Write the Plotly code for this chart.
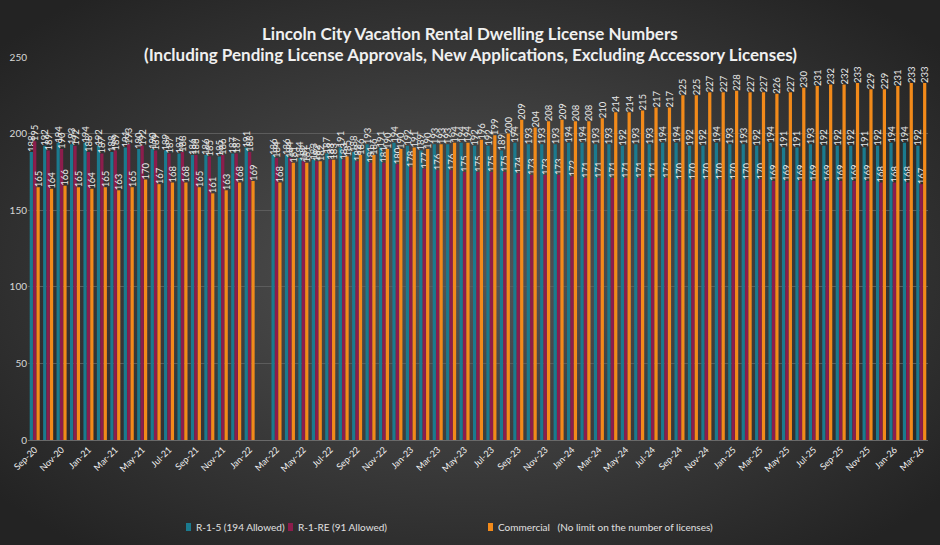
import base64
import plotly.graph_objects as go

months = ["Sep-20","Oct-20","Nov-20","Dec-20","Jan-21","Feb-21","Mar-21","Apr-21","May-21","Jun-21","Jul-21","Aug-21",
          "Sep-21","Oct-21","Nov-21","Dec-21","Jan-22","Feb-22","Mar-22","Apr-22","May-22","Jun-22","Jul-22","Aug-22",
          "Sep-22","Oct-22","Nov-22","Dec-22","Jan-23","Feb-23","Mar-23","Apr-23","May-23","Jun-23","Jul-23","Aug-23",
          "Sep-23","Oct-23","Nov-23","Dec-23","Jan-24","Feb-24","Mar-24","Apr-24","May-24","Jun-24","Jul-24","Aug-24",
          "Sep-24","Oct-24","Nov-24","Dec-24","Jan-25","Feb-25","Mar-25","Apr-25","May-25","Jun-25","Jul-25","Aug-25",
          "Sep-25","Oct-25","Nov-25","Dec-25","Jan-26","Feb-26","Mar-26"]

r15 = [188,192,194,193,194,192,188,191,190,190,189,187,
       186,186,185,187,191,None,186,186,184,183,187,191,
       188,193,191,194,192,189,193,193,194,192,192,189,
       194,193,193,193,194,194,193,193,192,193,193,194,
       194,192,192,194,193,193,192,194,191,191,193,192,
       192,192,191,192,194,194,192]

r1re = [195,189,190,192,188,187,189,193,192,189,187,188,
        186,185,186,187,188,None,184,184,182,182,183,183,
        182,181,181,180,178,177,176,176,175,175,175,175,
        174,173,173,173,172,171,171,171,171,171,171,171,
        170,170,170,170,170,170,170,169,169,169,169,169,
        169,169,169,168,168,168,167]

commercial = [165,164,166,165,164,165,163,165,170,167,168,168,
              165,161,163,168,169,None,168,181,181,182,183,185,
              186,186,190,190,191,190,193,194,194,196,199,200,
              209,204,208,209,208,208,210,214,214,215,217,217,
              225,225,227,227,228,227,227,226,227,230,231,232,
              232,233,229,229,231,233,233]

series_names = ["R-1-5 (194 Allowed)", "R-1-RE (91 Allowed)", "Commercial  (No limit on the number of licenses)"]
series_colors = ["#1b7a8e", "#8c1d4c", "#f28a1a"]
legend_px = [186, 288, 488]

W, H = 940, 545
ML, MR, MT, MB = 28, 12, 57, 105
PW, PH = W - ML - MR, H - MT - MB


def px_x(px):
    return (px - ML) / PW


def px_y(py):
    return (H - MB - py) / PH


svg = f'''<svg xmlns="http://www.w3.org/2000/svg" width="{W}" height="{H}">
<defs><radialGradient id="g" cx="50%" cy="50%" r="65%">
<stop offset="0%" stop-color="#555555"/><stop offset="100%" stop-color="#232323"/>
</radialGradient></defs>
<rect width="{W}" height="{H}" fill="url(#g)"/></svg>'''
bg_src = "data:image/svg+xml;base64," + base64.b64encode(svg.encode()).decode()

fig = go.Figure()
for name, vals, col in zip(series_names, [r15, r1re, commercial], series_colors):
    fig.add_trace(go.Bar(
        x=months, y=vals, name=name,
        marker=dict(color=col, line=dict(width=0)),
        text=["" if v is None else str(v) for v in vals],
        textposition="outside", textangle=-90,
        textfont=dict(size=9.5, color="#e8e8e8", family="Lato"),
        constraintext="none", cliponaxis=False,
    ))

# legend drawn as small swatches + labels below the plot
shapes = []
annotations = []
for name, col, px in zip(series_names, series_colors, legend_px):
    shapes.append(dict(type="rect", xref="paper", yref="paper",
                       x0=px_x(px), x1=px_x(px + 5), y0=px_y(531), y1=px_y(523),
                       fillcolor=col, line=dict(width=0)))
    annotations.append(dict(text=name.replace("  ", "&nbsp;&nbsp;&nbsp;"), x=px_x(px + 8), y=px_y(527),
                            xref="paper", yref="paper", xanchor="left", yanchor="middle", showarrow=False,
                            font=dict(size=10, color="#e0e0e0", family="Lato")))

annotations += [
    dict(text="<b>Lincoln City Vacation Rental Dwelling License Numbers</b>", x=px_x(470),
         y=px_y(21), xref="paper", yref="paper", showarrow=False,
         font=dict(size=17, color="#f0f0f0", family="Lato")),
    dict(text="<b>(Including Pending License Approvals, New Applications, Excluding Accessory Licenses)</b>",
         x=px_x(470), y=px_y(42), xref="paper", yref="paper", showarrow=False,
         font=dict(size=17, color="#f0f0f0", family="Lato")),
]

fig.update_layout(
    width=W, height=H,
    margin=dict(l=ML, r=MR, t=MT, b=MB, autoexpand=False),
    paper_bgcolor="#333333", plot_bgcolor="rgba(0,0,0,0)",
    barmode="group", bargap=0.24, bargroupgap=0.05,
    font=dict(family="Lato", color="#e0e0e0"),
    showlegend=False,
    images=[dict(source=bg_src, xref="paper", yref="paper", x=-ML / PW, y=1 + MT / PH,
                 sizex=W / PW, sizey=H / PH, sizing="stretch", layer="below", xanchor="left", yanchor="top")],
    shapes=shapes,
    annotations=annotations,
)

fig.update_xaxes(
    type="category", tickangle=-45, tickmode="array",
    tickvals=months[::2], ticktext=months[::2], automargin=False,
    tickfont=dict(size=9, color="#f0f0f0", family="Lato"),
    showgrid=False, showline=True, linecolor="#6a6a6a", ticks="",
)
fig.update_yaxes(
    range=[0, 250], tickvals=[0, 50, 100, 150, 200, 250], automargin=False,
    showgrid=True, gridcolor="#5c5c5c", gridwidth=1, zeroline=False,
    tickfont=dict(size=10, color="#d8d8d8", family="Lato"), ticks="",
)

fig.write_html("out.html")
